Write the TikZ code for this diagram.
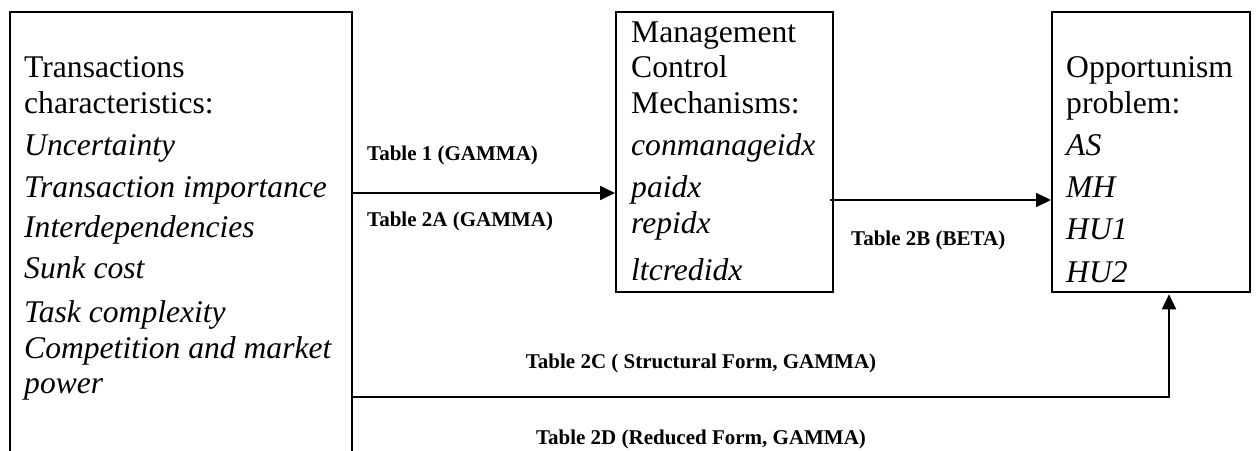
\documentclass[tikz,border=0pt]{standalone}
\usepackage{fontspec}
\setmainfont{Liberation Serif}
\usetikzlibrary{arrows.meta}
\begin{document}
\begin{tikzpicture}[x=1pt,y=-1pt,
  box/.style={draw,line width=1.8pt,rectangle,inner sep=0pt,anchor=north west},
  boxtxt/.style={anchor=base west,inner sep=0pt,font=\fontsize{31.6}{36}\selectfont},
  lbl/.style={anchor=base west,inner sep=0pt,font=\fontsize{21}{25}\selectfont\bfseries},
  clbl/.style={anchor=base,inner sep=0pt,font=\fontsize{21}{25}\selectfont\bfseries},
  conn/.style={line width=1.8pt,-{Triangle[length=15pt,width=14pt]}}]
\useasboundingbox (0,0) rectangle (1256,450);
% boxes
\node[box,minimum width=342pt,minimum height=480pt] (tc) at (9,11) {};
\node[box,minimum width=217pt,minimum height=280pt] (mcm) at (615,11) {};
\node[box,minimum width=198pt,minimum height=280pt] (op) at (1051,11) {};
% left box text
\node[boxtxt] (t1) at (24,77) {Transactions};
\node[boxtxt] (t2) at (24,113) {characteristics:};
\node[boxtxt] (t3) at (24,155) {\itshape Uncertainty};
\node[boxtxt] (t4) at (24,197) {\itshape Transaction importance};
\node[boxtxt] (t5) at (24,237) {\itshape Interdependencies};
\node[boxtxt] (t6) at (24,278) {\itshape Sunk cost};
\node[boxtxt] (t7) at (24,322) {\itshape Task complexity};
\node[boxtxt] (t8) at (24,358) {\itshape Competition and market};
\node[boxtxt] (t9) at (24,393) {\itshape power};
% middle box text
\node[boxtxt] (m1) at (631,42) {Management};
\node[boxtxt] (m2) at (631,77) {Control};
\node[boxtxt] (m3) at (631,113) {Mechanisms:};
\node[boxtxt] (m4) at (631,155) {\itshape conmanageidx};
\node[boxtxt] (m5) at (631,197) {\itshape paidx};
\node[boxtxt] (m6) at (631,233) {\itshape repidx};
\node[boxtxt] (m7) at (631,280) {\itshape ltcredidx};
% right box text
\node[boxtxt] (o1) at (1066,77) {Opportunism};
\node[boxtxt] (o2) at (1066,113) {problem:};
\node[boxtxt] (o3) at (1066,155) {\itshape AS};
\node[boxtxt] (o4) at (1066,197) {\itshape MH};
\node[boxtxt] (o5) at (1066,239) {\itshape HU1};
\node[boxtxt] (o6) at (1066,282) {\itshape HU2};
% labels
\node[lbl] (l1) at (367,160) {Table 1 (GAMMA)};
\node[lbl] (l2a) at (367,226) {Table 2A (GAMMA)};
\node[lbl] (l2b) at (851,245) {Table 2B (BETA)};
\node[clbl] (l2c) at (701,368) {Table 2C ( Structural Form, GAMMA)};
\node[clbl] (l2d) at (701,444) {Table 2D (Reduced Form, GAMMA)};
% connectors
\coordinate (a2s) at ([xshift=-4pt]mcm.east);
\coordinate (a3c) at (1169,397);
\draw[conn] (tc.east |- 0,193) -- (mcm.west |- 0,193);
\draw[conn] (a2s |- 0,200) -- (op.west |- 0,200);
\draw[conn,shorten >=1.5pt] (tc.east |- a3c) -- (a3c) -- (op.south -| a3c);
\end{tikzpicture}
\end{document}
